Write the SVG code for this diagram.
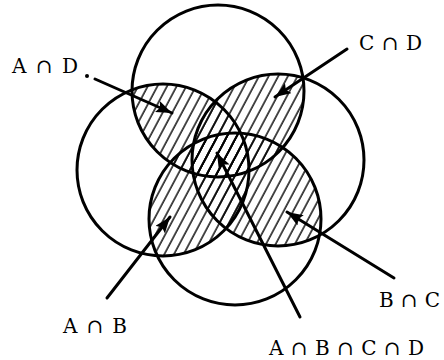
<svg xmlns="http://www.w3.org/2000/svg" width="444" height="360" viewBox="0 0 444 360">
<style>
.c{fill:none;stroke:#000;stroke-width:3}
.l{fill:none;stroke:#000;stroke-width:3;stroke-linecap:round}
.t{font-family:"DejaVu Serif","Liberation Serif",serif;font-size:20px;fill:#000}
</style>
<defs>
<pattern id="h" patternUnits="userSpaceOnUse" width="8.5" height="20" patternTransform="rotate(28)">
<line x1="1" y1="0" x2="1" y2="20" stroke="#000" stroke-width="1.4"/>
</pattern>
<clipPath id="cA"><circle cx="163" cy="170" r="86"/></clipPath>
<clipPath id="cB"><circle cx="235" cy="219" r="86"/></clipPath>
<clipPath id="cC"><circle cx="278" cy="160" r="86"/></clipPath>
<clipPath id="cD"><circle cx="218" cy="91" r="86"/></clipPath>
<marker id="ar" markerUnits="userSpaceOnUse" markerWidth="18" markerHeight="12" refX="16" refY="6" orient="auto">
<path d="M0,0 L16,6 L0,12 L3,6 Z" fill="#000"/>
</marker>
</defs>
<g id="hatching">
<g clip-path="url(#cA)"><rect x="0" y="0" width="444" height="360" fill="url(#h)" clip-path="url(#cD)"/></g>
<g clip-path="url(#cC)"><rect x="0" y="0" width="444" height="360" fill="url(#h)" clip-path="url(#cD)"/></g>
<g clip-path="url(#cA)"><rect x="0" y="0" width="444" height="360" fill="url(#h)" clip-path="url(#cB)"/></g>
<g clip-path="url(#cC)"><rect x="0" y="0" width="444" height="360" fill="url(#h)" clip-path="url(#cB)"/></g>
</g>
<g id="A"><circle class="c" cx="163" cy="170" r="86"/></g>
<g id="B"><circle class="c" cx="235" cy="219" r="86"/></g>
<g id="C"><circle class="c" cx="278" cy="160" r="86"/></g>
<g id="D"><circle class="c" cx="218" cy="91" r="86"/></g>
<g id="connectors">
<circle cx="87" cy="76" r="2" fill="#000"/>
<line class="l" x1="95" y1="79" x2="172" y2="113" marker-end="url(#ar)"/>
<line class="l" x1="347" y1="49" x2="275" y2="97" marker-end="url(#ar)"/>
<line class="l" x1="107" y1="298" x2="170" y2="217" marker-end="url(#ar)"/>
<line class="l" x1="394" y1="278" x2="287" y2="212" marker-end="url(#ar)"/>
<line class="l" x1="300" y1="317" x2="217" y2="153" marker-end="url(#ar)"/>
</g>
<g id="labels">
<text class="t" x="12" y="73" textLength="66" lengthAdjust="spacing">A∩D</text>
<text class="t" x="359" y="50" textLength="63" lengthAdjust="spacing">C∩D</text>
<text class="t" x="63" y="333" textLength="64" lengthAdjust="spacing">A∩B</text>
<text class="t" x="379" y="307" textLength="61" lengthAdjust="spacing">B∩C</text>
<text class="t" x="269" y="355" textLength="155" lengthAdjust="spacing">A∩B∩C∩D</text>
</g>
</svg>
